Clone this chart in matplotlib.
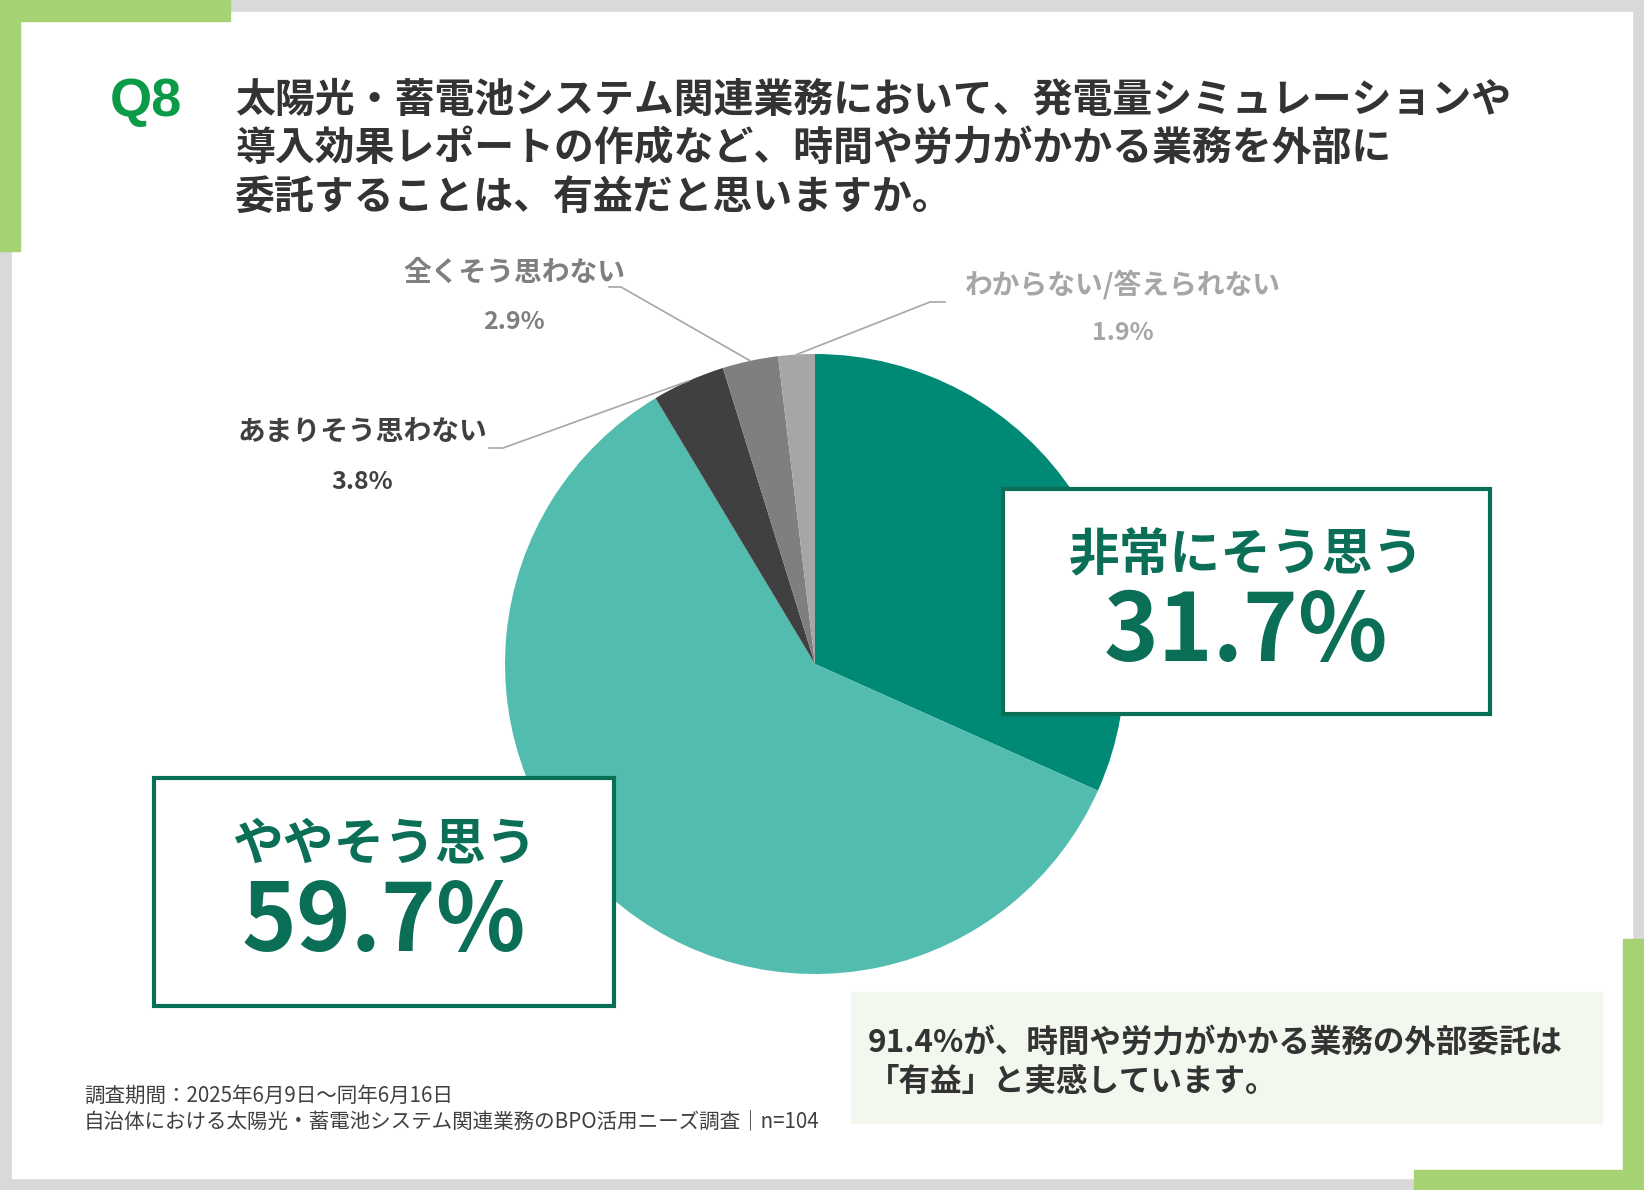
import numpy as np
import matplotlib
matplotlib.use("Agg")
import matplotlib.pyplot as plt
from matplotlib.patches import Rectangle

plt.rcParams['font.family'] = ['Noto Sans CJK JP', 'DejaVu Sans']

# data
categories = ["非常にそう思う", "ややそう思う", "あまりそう思わない", "全くそう思わない", "わからない/答えられない"]
values = [31.7, 59.7, 3.8, 2.9, 1.9]
slice_colors = ["#008a76", "#52bdaf", "#404040", "#7f7f7f", "#a6a6a6"]

title_lines = ["太陽光・蓄電池システム関連業務において、発電量シミュレーションや",
               "導入効果レポートの作成など、時間や労力がかかる業務を外部に",
               "委託することは、有益だと思いますか。"]
note_lines = ["91.4%が、時間や労力がかかる業務の外部委託は", "「有益」と実感しています。"]
footer_lines = ["調査期間：2025年6月9日～同年6月16日",
                "自治体における太陽光・蓄電池システム関連業務のBPO活用ニーズ調査｜n=104"]

W, H = 1644, 1190
fig = plt.figure(figsize=(W / 100, H / 100), dpi=100)

# background layer in pixel coordinates (y down)
bg = fig.add_axes([0, 0, 1, 1])
bg.set_xlim(0, W)
bg.set_ylim(H, 0)
bg.axis("off")
bg.add_patch(Rectangle((0, 0), W, H, color="#d9d9d9"))
bg.add_patch(Rectangle((12, 12), 1620, 1166, color="white"))
green = "#a5d273"
bg.add_patch(Rectangle((0, 0), 230, 21, color=green))
bg.add_patch(Rectangle((0, 0), 20, 251, color=green))
bg.add_patch(Rectangle((1623, 939), 21, 251, color=green))
bg.add_patch(Rectangle((1414, 1170), 230, 20, color=green))

# pie
cx, cy, r = 815, 664, 310
pie_ax = fig.add_axes([(cx - r) / W, (H - cy - r) / H, 2 * r / W, 2 * r / H])
pie_ax.pie(values, colors=slice_colors, startangle=90, counterclock=False,
           wedgeprops=dict(linewidth=0))
pie_ax.set_xlim(-1, 1)
pie_ax.set_ylim(-1, 1)
pie_ax.axis("off")

# foreground layer
fg = fig.add_axes([0, 0, 1, 1])
fg.set_xlim(0, W)
fg.set_ylim(H, 0)
fg.axis("off")
fg.patch.set_alpha(0)

dark = "#333333"
fg.text(110, 102, "Q8", fontsize=39, fontweight="bold", color="#0a9a48",
        family="Liberation Sans", ha="left", va="center")
for i, line in enumerate(title_lines):
    fg.text(235, 100 + i * 48.5, line, fontsize=28.7, fontweight="bold",
            color=dark, ha="left", va="center")

# big labels in boxes
box_green = "#0b6e57"
boxes = [(1003, 489, 487, 225, 1246, 555, 633), (154, 778, 460, 228, 384, 845, 923)]
for idx, (bx, by, bw, bh, tx, ty1, ty2) in enumerate(boxes):
    fg.add_patch(Rectangle((bx, by), bw, bh, facecolor="white", edgecolor=box_green, linewidth=3))
    fg.text(tx, ty1, categories[idx], fontsize=36.5, fontweight="bold", color=box_green,
            ha="center", va="center")
    fg.text(tx, ty2, f"{values[idx]}%", fontsize=67, fontweight="bold", color=box_green,
            ha="center", va="center")

# small labels with leader lines
small = [(2, 362, 433, 482, (489, 503, 448)),
         (3, 514, 273, 322, (609, 621, 287)),
         (4, 1123, 285, 333, (945, 930, 302))]
label_colors = {2: "#404040", 3: "#7f7f7f", 4: "#a6a6a6"}
cum = np.cumsum([0] + values)
for idx, lx, ly1, ly2, (x0, x1, yl) in small:
    fg.text(lx, ly1, categories[idx], fontsize=20, fontweight="bold",
            color=label_colors[idx], ha="center", va="center")
    fg.text(lx, ly2, f"{values[idx]}%", fontsize=18, fontweight="bold",
            color=label_colors[idx], ha="center", va="center")
    mid = (cum[idx] + cum[idx + 1]) / 2 / 100
    ang = np.deg2rad(90 - 360 * mid)
    px, py = fg.transData.inverted().transform(
        pie_ax.transData.transform((np.cos(ang), np.sin(ang))))
    fg.plot([x0, x1, px], [yl, yl, py], color="#a6a6a6", linewidth=1.2)

# note box
fg.add_patch(Rectangle((851, 992), 751, 131, color="#f3f8ee"))
fg.text(868, 1043, note_lines[0], fontsize=22.7, fontweight="bold", color=dark,
        ha="left", va="center")
fg.text(868, 1082, note_lines[1], fontsize=22.7, fontweight="bold", color=dark,
        ha="left", va="center")

# footer
fg.text(84, 1096, footer_lines[0], fontsize=14.8, color="#404040", ha="left", va="center")
fg.text(84, 1121, footer_lines[1], fontsize=14.8, color="#404040", ha="left", va="center")

fig.savefig("out.png", dpi=100)
